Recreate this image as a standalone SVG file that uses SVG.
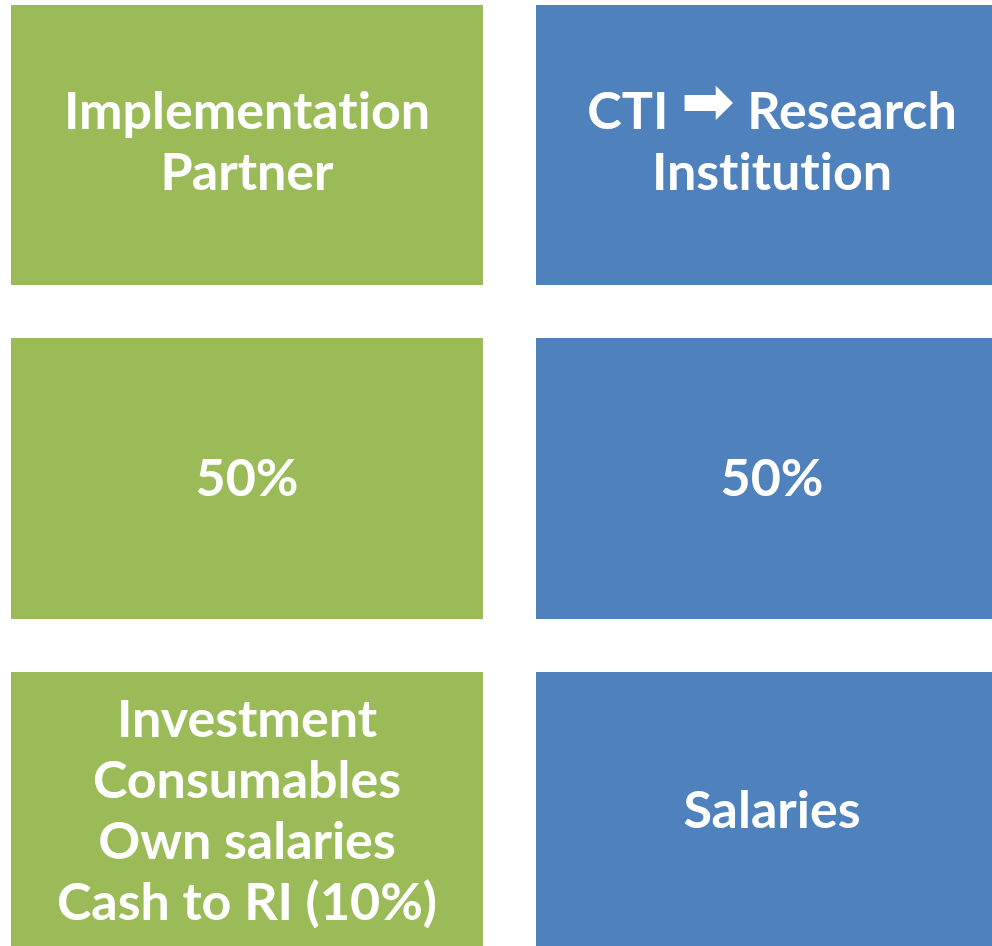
<svg xmlns="http://www.w3.org/2000/svg" width="992" height="946" viewBox="0 0 992 946">
  <style>
    .green { fill: #9BBB59; }
    .blue { fill: #4F81BD; }
    .label { font-family: Lato, "Liberation Sans", sans-serif; font-weight: bold; font-size: 52px; fill: #FFFFFF; text-anchor: middle; font-variant-ligatures: none; font-feature-settings: "liga" 0; }
    .sym { font-family: "DejaVu Sans", sans-serif; font-weight: bold; font-size: 64px; }
  </style>
  <rect width="992" height="946" fill="#FFFFFF"/>

  <g id="partner-title">
    <rect class="green" x="11" y="5" width="472" height="280"/>
    <text class="label" x="247" y="129">Implementation</text>
    <text class="label" x="247" y="190">Partner</text>
  </g>

  <g id="institution-title">
    <rect class="blue" x="536" y="5" width="472" height="280"/>
    <text class="label" x="772" y="129">CTI <tspan class="sym" dy="-6">➡</tspan><tspan dy="6"> Research</tspan></text>
    <text class="label" x="772" y="190">Institution</text>
  </g>

  <g id="partner-share">
    <rect class="green" x="11" y="338" width="472" height="281"/>
    <text class="label" x="247" y="496">50%</text>
  </g>

  <g id="institution-share">
    <rect class="blue" x="536" y="338" width="472" height="281"/>
    <text class="label" x="772" y="496">50%</text>
  </g>

  <g id="partner-costs">
    <rect class="green" x="11" y="672" width="472" height="280"/>
    <text class="label" x="247" y="737">Investment</text>
    <text class="label" x="247" y="798">Consumables</text>
    <text class="label" x="247" y="859">Own salaries</text>
    <text class="label" x="247" y="920">Cash to RI (10%)</text>
  </g>

  <g id="institution-costs">
    <rect class="blue" x="536" y="672" width="472" height="280"/>
    <text class="label" x="772" y="828">Salaries</text>
  </g>

  <g id="connectors"/>
</svg>
